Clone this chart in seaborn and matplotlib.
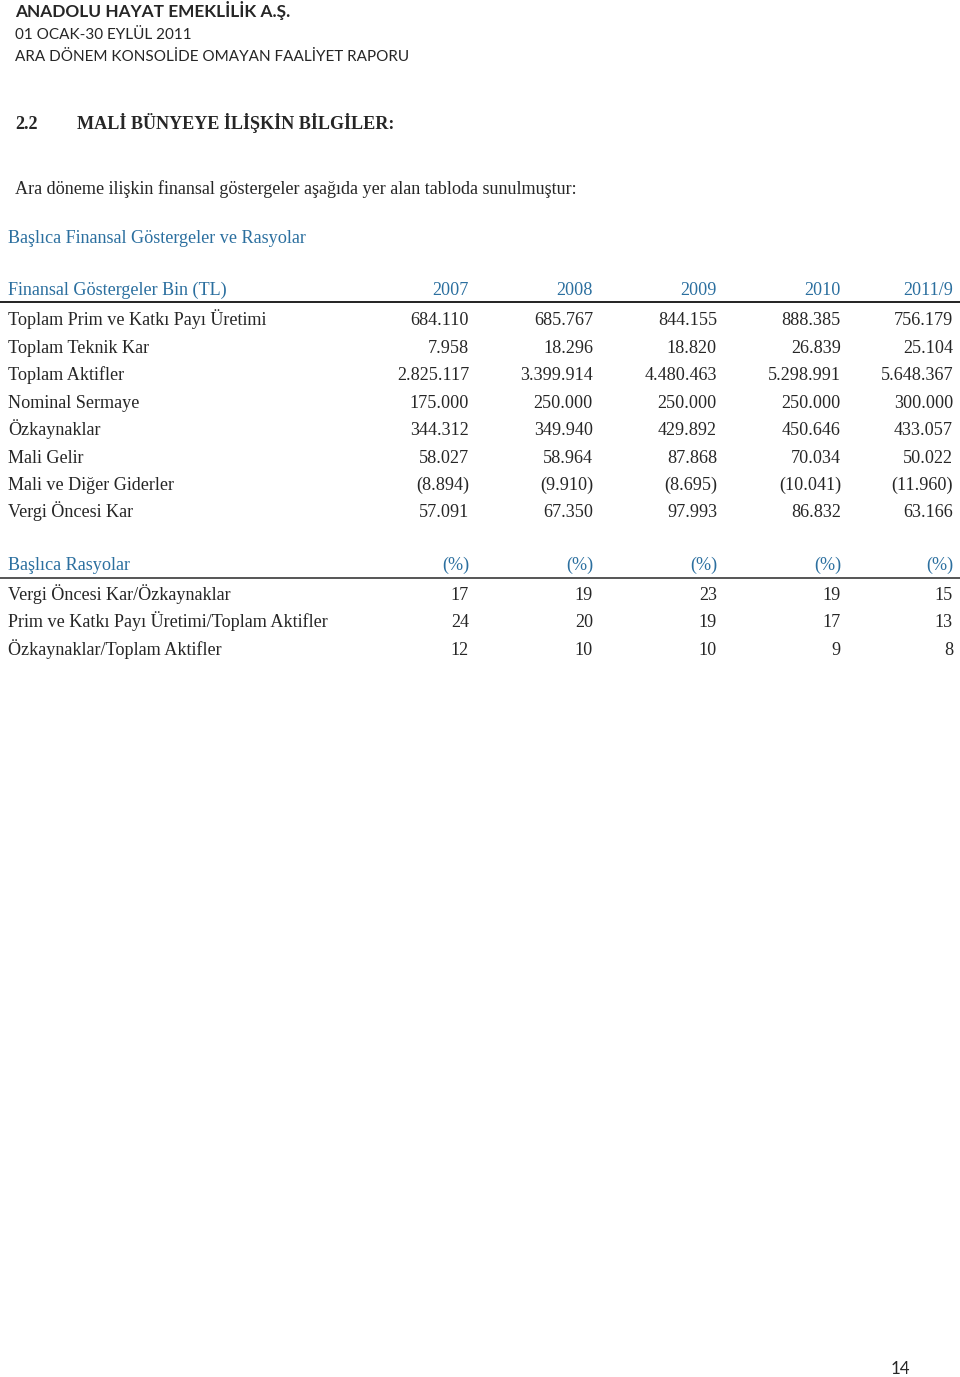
import numpy as np
import matplotlib.pyplot as plt
import pandas as pd
import seaborn as sns

# page text
header_lines = ["ANADOLU HAYAT EMEKLİLİK A.Ş.", "01 OCAK-30 EYLÜL 2011",
                "ARA DÖNEM KONSOLİDE OMAYAN FAALİYET RAPORU"]
section_no = "2.2"
section_title = "MALİ BÜNYEYE İLİŞKİN BİLGİLER:"
intro = "Ara döneme ilişkin finansal göstergeler aşağıda yer alan tabloda sunulmuştur:"
table_title = "Başlıca Finansal Göstergeler ve Rasyolar"
page_no = "14"

# financial indicators table
years = ["2007", "2008", "2009", "2010", "2011/9"]
fin_header = "Finansal Göstergeler Bin (TL)"
fin_rows = ["Toplam Prim ve Katkı Payı Üretimi", "Toplam Teknik Kar", "Toplam Aktifler",
            "Nominal Sermaye", "Özkaynaklar", "Mali Gelir", "Mali ve Diğer Giderler",
            "Vergi Öncesi Kar"]
fin_values = [
    ["684.110", "685.767", "844.155", "888.385", "756.179"],
    ["7.958", "18.296", "18.820", "26.839", "25.104"],
    ["2.825.117", "3.399.914", "4.480.463", "5.298.991", "5.648.367"],
    ["175.000", "250.000", "250.000", "250.000", "300.000"],
    ["344.312", "349.940", "429.892", "450.646", "433.057"],
    ["58.027", "58.964", "87.868", "70.034", "50.022"],
    ["(8.894)", "(9.910)", "(8.695)", "(10.041)", "(11.960)"],
    ["57.091", "67.350", "97.993", "86.832", "63.166"],
]

# ratios table
ratio_header = "Başlıca Rasyolar"
ratio_unit = "(%)"
ratio_rows = ["Vergi Öncesi Kar/Özkaynaklar", "Prim ve Katkı Payı Üretimi/Toplam Aktifler",
              "Özkaynaklar/Toplam Aktifler"]
ratio_values = [
    [17, 19, 23, 19, 15],
    [24, 20, 19, 17, 13],
    [12, 10, 10, 9, 8],
]

sns.set_theme(style="white")
plt.rcParams['font.family'] = ['Liberation Serif', 'DejaVu Serif']

blue = "#2b6f9f"
serif = ['Liberation Serif', 'DejaVu Serif']
sans = ['Lato', 'DejaVu Sans']
body = 13.1
bl = 6  # baseline sits this far below the visual centre of a row

fig = plt.figure(figsize=(9.6, 13.77), dpi=100)
ax = fig.add_axes([0, 0, 1, 1])
ax.set_xlim(0, 960)
ax.set_ylim(1377, 0)
ax.axis('off')

# page header
ax.text(15, 17, header_lines[0], family=sans, fontsize=12.4, fontweight='bold', va='baseline')
ax.text(15, 39, header_lines[1], family=sans, fontsize=11.0, va='baseline')
ax.text(15, 61, header_lines[2], family=sans, fontsize=11.0, va='baseline')

ax.text(15, 123 + bl, section_no, family=serif, fontsize=13.1, fontweight='bold', va='baseline')
ax.text(77, 123 + bl, section_title, family=serif, fontsize=13.1, fontweight='bold', va='baseline')
ax.text(15, 188 + bl, intro, family=serif, fontsize=body, va='baseline')
ax.text(8, 237 + bl, table_title, family=serif, fontsize=body, color=blue, va='baseline')

col_x = [469, 593, 717, 841, 953]

# financial indicators
y0 = 289 + bl
ax.text(8, y0, fin_header, family=serif, fontsize=body, color=blue, va='baseline')
for x, yr in zip(col_x, years):
    ax.text(x, y0, yr, family=serif, fontsize=body, color=blue, va='baseline', ha='right')
ax.plot([0, 960], [302, 302], color='#222222', lw=1.4, solid_capstyle='butt')

fin_y = [319, 347, 374, 402, 429, 457, 484, 511]
for yy, name, vals in zip(fin_y, fin_rows, fin_values):
    ax.text(8, yy + bl, name, family=serif, fontsize=body, va='baseline')
    for x, v in zip(col_x, vals):
        ax.text(x, yy + bl, v, family=serif, fontsize=body, va='baseline', ha='right')

# ratios
y1 = 564 + bl
ax.text(8, y1, ratio_header, family=serif, fontsize=body, color=blue, va='baseline')
for x in col_x:
    ax.text(x, y1, ratio_unit, family=serif, fontsize=body, color=blue, va='baseline', ha='right')
ax.plot([0, 960], [578, 578], color='#555555', lw=1.4, solid_capstyle='butt')

ratio_y = [594, 621, 649]
for yy, name, vals in zip(ratio_y, ratio_rows, ratio_values):
    ax.text(8, yy + bl, name, family=serif, fontsize=body, va='baseline')
    for x, v in zip(col_x, vals):
        ax.text(x, yy + bl, str(v), family=serif, fontsize=body, va='baseline', ha='right')

ax.text(900, 1374, page_no, family=sans, fontsize=12.2, va='baseline', ha='center')

fig.savefig("out.png", dpi=100, facecolor='white')
